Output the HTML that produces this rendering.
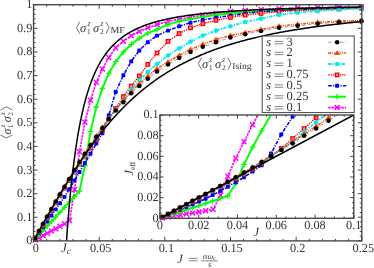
<!DOCTYPE html>
<html><head><meta charset="utf-8"><title>chart</title>
<style>html,body{margin:0;padding:0;background:#fff;}svg{display:block;will-change:transform;transform:translateZ(0);}svg text{text-rendering:geometricPrecision;}</style>
</head><body>
<svg width="374" height="268" viewBox="0 0 374 268">
<rect width="374" height="268" fill="#ffffff"/>
<defs>
<clipPath id="cm"><rect x="33.55" y="4.7" width="328.25" height="236.20000000000002"/></clipPath>
<clipPath id="ci"><rect x="159.95" y="115.0" width="193.85000000000002" height="103.30000000000001"/></clipPath>
</defs>
<g clip-path="url(#cm)">
<polyline points="33.55,240.90 35.20,239.99 39.10,237.83 43.10,235.61 47.20,233.34 51.40,231.02 55.70,228.64 60.00,226.26 64.50,223.77 69.60,220.39 74.60,189.53 79.50,151.70 84.90,122.20 90.50,100.30 96.30,82.30 102.40,68.90 108.80,57.50 115.70,47.70 123.40,41.20 131.20,35.70 139.30,31.40 147.80,27.80 157.00,24.60 168.00,21.40 179.20,19.20 190.50,17.20 202.80,15.10 216.00,13.40 230.40,11.60 245.20,10.40 261.00,9.40 279.00,8.70 297.60,8.10 317.70,7.60 339.00,7.20 361.50,6.90" fill="none" stroke="#ff00ff" stroke-width="1.6" stroke-dasharray="2.4,0.9"/>
</g>
<path d="M32.70,237.49L37.70,242.49M32.70,242.49L37.70,237.49" stroke="#ff00ff" stroke-width="1.45" fill="none"/>
<path d="M36.60,235.33L41.60,240.33M36.60,240.33L41.60,235.33" stroke="#ff00ff" stroke-width="1.45" fill="none"/>
<path d="M40.60,233.11L45.60,238.11M40.60,238.11L45.60,233.11" stroke="#ff00ff" stroke-width="1.45" fill="none"/>
<path d="M44.70,230.84L49.70,235.84M44.70,235.84L49.70,230.84" stroke="#ff00ff" stroke-width="1.45" fill="none"/>
<path d="M48.90,228.52L53.90,233.52M48.90,233.52L53.90,228.52" stroke="#ff00ff" stroke-width="1.45" fill="none"/>
<path d="M53.20,226.14L58.20,231.14M53.20,231.14L58.20,226.14" stroke="#ff00ff" stroke-width="1.45" fill="none"/>
<path d="M57.50,223.76L62.50,228.76M57.50,228.76L62.50,223.76" stroke="#ff00ff" stroke-width="1.45" fill="none"/>
<path d="M62.00,221.27L67.00,226.27M62.00,226.27L67.00,221.27" stroke="#ff00ff" stroke-width="1.45" fill="none"/>
<path d="M67.10,217.89L72.10,222.89M67.10,222.89L72.10,217.89" stroke="#ff00ff" stroke-width="1.45" fill="none"/>
<path d="M72.10,187.03L77.10,192.03M72.10,192.03L77.10,187.03" stroke="#ff00ff" stroke-width="1.45" fill="none"/>
<path d="M77.00,149.20L82.00,154.20M77.00,154.20L82.00,149.20" stroke="#ff00ff" stroke-width="1.45" fill="none"/>
<path d="M82.40,119.70L87.40,124.70M82.40,124.70L87.40,119.70" stroke="#ff00ff" stroke-width="1.45" fill="none"/>
<path d="M88.00,97.80L93.00,102.80M88.00,102.80L93.00,97.80" stroke="#ff00ff" stroke-width="1.45" fill="none"/>
<path d="M93.80,79.80L98.80,84.80M93.80,84.80L98.80,79.80" stroke="#ff00ff" stroke-width="1.45" fill="none"/>
<path d="M99.90,66.40L104.90,71.40M99.90,71.40L104.90,66.40" stroke="#ff00ff" stroke-width="1.45" fill="none"/>
<path d="M106.30,55.00L111.30,60.00M106.30,60.00L111.30,55.00" stroke="#ff00ff" stroke-width="1.45" fill="none"/>
<path d="M113.20,45.20L118.20,50.20M113.20,50.20L118.20,45.20" stroke="#ff00ff" stroke-width="1.45" fill="none"/>
<path d="M120.90,38.70L125.90,43.70M120.90,43.70L125.90,38.70" stroke="#ff00ff" stroke-width="1.45" fill="none"/>
<path d="M128.70,33.20L133.70,38.20M128.70,38.20L133.70,33.20" stroke="#ff00ff" stroke-width="1.45" fill="none"/>
<path d="M136.80,28.90L141.80,33.90M136.80,33.90L141.80,28.90" stroke="#ff00ff" stroke-width="1.45" fill="none"/>
<path d="M145.30,25.30L150.30,30.30M145.30,30.30L150.30,25.30" stroke="#ff00ff" stroke-width="1.45" fill="none"/>
<path d="M154.50,22.10L159.50,27.10M154.50,27.10L159.50,22.10" stroke="#ff00ff" stroke-width="1.45" fill="none"/>
<path d="M165.50,18.90L170.50,23.90M165.50,23.90L170.50,18.90" stroke="#ff00ff" stroke-width="1.45" fill="none"/>
<path d="M176.70,16.70L181.70,21.70M176.70,21.70L181.70,16.70" stroke="#ff00ff" stroke-width="1.45" fill="none"/>
<path d="M188.00,14.70L193.00,19.70M188.00,19.70L193.00,14.70" stroke="#ff00ff" stroke-width="1.45" fill="none"/>
<path d="M200.30,12.60L205.30,17.60M200.30,17.60L205.30,12.60" stroke="#ff00ff" stroke-width="1.45" fill="none"/>
<path d="M213.50,10.90L218.50,15.90M213.50,15.90L218.50,10.90" stroke="#ff00ff" stroke-width="1.45" fill="none"/>
<path d="M227.90,9.10L232.90,14.10M227.90,14.10L232.90,9.10" stroke="#ff00ff" stroke-width="1.45" fill="none"/>
<path d="M242.70,7.90L247.70,12.90M242.70,12.90L247.70,7.90" stroke="#ff00ff" stroke-width="1.45" fill="none"/>
<path d="M258.50,6.90L263.50,11.90M258.50,11.90L263.50,6.90" stroke="#ff00ff" stroke-width="1.45" fill="none"/>
<path d="M276.50,6.20L281.50,11.20M276.50,11.20L281.50,6.20" stroke="#ff00ff" stroke-width="1.45" fill="none"/>
<path d="M295.10,5.60L300.10,10.60M295.10,10.60L300.10,5.60" stroke="#ff00ff" stroke-width="1.45" fill="none"/>
<path d="M315.20,5.10L320.20,10.10M315.20,10.10L320.20,5.10" stroke="#ff00ff" stroke-width="1.45" fill="none"/>
<path d="M336.50,4.70L341.50,9.70M336.50,9.70L341.50,4.70" stroke="#ff00ff" stroke-width="1.45" fill="none"/>
<path d="M359.00,4.40L364.00,9.40M359.00,9.40L364.00,4.40" stroke="#ff00ff" stroke-width="1.45" fill="none"/>
<g clip-path="url(#cm)">
<polyline points="33.55,240.90 35.20,239.11 39.10,234.88 43.10,230.54 47.20,226.09 51.40,221.53 55.70,216.87 60.00,212.20 64.50,207.32 69.20,202.22 74.40,196.58 79.50,191.04 84.90,165.50 90.50,131.60 96.30,107.00 102.40,88.30 108.80,73.40 115.70,61.70 123.40,52.00 131.20,44.30 139.30,38.30 147.80,33.20 157.00,29.40 168.00,24.60 179.20,21.20 190.50,19.10 202.80,16.90 216.00,15.00 230.40,13.50 245.20,12.30 261.00,11.20 279.00,10.30 297.60,9.50 317.70,8.80 339.00,8.20 361.50,7.70" fill="none" stroke="#00ff00" stroke-width="1.9"/>
</g>
<path d="M35.20,236.31V241.91M32.40,239.11H38.00" stroke="#00ff00" stroke-width="1.3" fill="none"/>
<path d="M39.10,232.08V237.68M36.30,234.88H41.90" stroke="#00ff00" stroke-width="1.3" fill="none"/>
<path d="M43.10,227.74V233.34M40.30,230.54H45.90" stroke="#00ff00" stroke-width="1.3" fill="none"/>
<path d="M47.20,223.29V228.89M44.40,226.09H50.00" stroke="#00ff00" stroke-width="1.3" fill="none"/>
<path d="M51.40,218.73V224.33M48.60,221.53H54.20" stroke="#00ff00" stroke-width="1.3" fill="none"/>
<path d="M55.70,214.07V219.67M52.90,216.87H58.50" stroke="#00ff00" stroke-width="1.3" fill="none"/>
<path d="M60.00,209.40V215.00M57.20,212.20H62.80" stroke="#00ff00" stroke-width="1.3" fill="none"/>
<path d="M64.50,204.52V210.12M61.70,207.32H67.30" stroke="#00ff00" stroke-width="1.3" fill="none"/>
<path d="M69.20,199.42V205.02M66.40,202.22H72.00" stroke="#00ff00" stroke-width="1.3" fill="none"/>
<path d="M74.40,193.78V199.38M71.60,196.58H77.20" stroke="#00ff00" stroke-width="1.3" fill="none"/>
<path d="M79.50,188.24V193.84M76.70,191.04H82.30" stroke="#00ff00" stroke-width="1.3" fill="none"/>
<path d="M84.90,162.70V168.30M82.10,165.50H87.70" stroke="#00ff00" stroke-width="1.3" fill="none"/>
<path d="M90.50,128.80V134.40M87.70,131.60H93.30" stroke="#00ff00" stroke-width="1.3" fill="none"/>
<path d="M96.30,104.20V109.80M93.50,107.00H99.10" stroke="#00ff00" stroke-width="1.3" fill="none"/>
<path d="M102.40,85.50V91.10M99.60,88.30H105.20" stroke="#00ff00" stroke-width="1.3" fill="none"/>
<path d="M108.80,70.60V76.20M106.00,73.40H111.60" stroke="#00ff00" stroke-width="1.3" fill="none"/>
<path d="M115.70,58.90V64.50M112.90,61.70H118.50" stroke="#00ff00" stroke-width="1.3" fill="none"/>
<path d="M123.40,49.20V54.80M120.60,52.00H126.20" stroke="#00ff00" stroke-width="1.3" fill="none"/>
<path d="M131.20,41.50V47.10M128.40,44.30H134.00" stroke="#00ff00" stroke-width="1.3" fill="none"/>
<path d="M139.30,35.50V41.10M136.50,38.30H142.10" stroke="#00ff00" stroke-width="1.3" fill="none"/>
<path d="M147.80,30.40V36.00M145.00,33.20H150.60" stroke="#00ff00" stroke-width="1.3" fill="none"/>
<path d="M157.00,26.60V32.20M154.20,29.40H159.80" stroke="#00ff00" stroke-width="1.3" fill="none"/>
<path d="M168.00,21.80V27.40M165.20,24.60H170.80" stroke="#00ff00" stroke-width="1.3" fill="none"/>
<path d="M179.20,18.40V24.00M176.40,21.20H182.00" stroke="#00ff00" stroke-width="1.3" fill="none"/>
<path d="M190.50,16.30V21.90M187.70,19.10H193.30" stroke="#00ff00" stroke-width="1.3" fill="none"/>
<path d="M202.80,14.10V19.70M200.00,16.90H205.60" stroke="#00ff00" stroke-width="1.3" fill="none"/>
<path d="M216.00,12.20V17.80M213.20,15.00H218.80" stroke="#00ff00" stroke-width="1.3" fill="none"/>
<path d="M230.40,10.70V16.30M227.60,13.50H233.20" stroke="#00ff00" stroke-width="1.3" fill="none"/>
<path d="M245.20,9.50V15.10M242.40,12.30H248.00" stroke="#00ff00" stroke-width="1.3" fill="none"/>
<path d="M261.00,8.40V14.00M258.20,11.20H263.80" stroke="#00ff00" stroke-width="1.3" fill="none"/>
<path d="M279.00,7.50V13.10M276.20,10.30H281.80" stroke="#00ff00" stroke-width="1.3" fill="none"/>
<path d="M297.60,6.70V12.30M294.80,9.50H300.40" stroke="#00ff00" stroke-width="1.3" fill="none"/>
<path d="M317.70,6.00V11.60M314.90,8.80H320.50" stroke="#00ff00" stroke-width="1.3" fill="none"/>
<path d="M339.00,5.40V11.00M336.20,8.20H341.80" stroke="#00ff00" stroke-width="1.3" fill="none"/>
<path d="M361.50,4.90V10.50M358.70,7.70H364.30" stroke="#00ff00" stroke-width="1.3" fill="none"/>
<g clip-path="url(#cm)">
<polyline points="33.55,240.90 35.20,238.55 39.10,233.01 43.10,227.32 47.20,221.49 51.40,215.52 55.70,209.41 60.00,203.29 64.50,196.90 69.20,189.21 74.40,180.52 79.50,172.00 84.90,163.05 90.50,153.76 96.30,143.46 102.40,133.24 108.80,115.40 115.70,92.04 123.40,75.25 131.20,61.40 139.30,50.50 147.80,42.19 157.00,35.65 168.00,30.60 179.20,26.30 190.50,22.72 202.80,19.89 216.00,17.70 230.40,15.73 245.20,13.40 261.00,11.67 279.00,10.50 297.60,9.60 317.70,8.80 339.00,8.10 361.50,7.60" fill="none" stroke="#0000ff" stroke-width="1.6" stroke-dasharray="3.6,1.3,1.2,1.3"/>
</g>
<rect x="33.25" y="236.60" width="3.90" height="3.90" rx="0.7" fill="#0000ff"/>
<rect x="37.15" y="231.06" width="3.90" height="3.90" rx="0.7" fill="#0000ff"/>
<rect x="41.15" y="225.37" width="3.90" height="3.90" rx="0.7" fill="#0000ff"/>
<rect x="45.25" y="219.54" width="3.90" height="3.90" rx="0.7" fill="#0000ff"/>
<rect x="49.45" y="213.57" width="3.90" height="3.90" rx="0.7" fill="#0000ff"/>
<rect x="53.75" y="207.46" width="3.90" height="3.90" rx="0.7" fill="#0000ff"/>
<rect x="58.05" y="201.34" width="3.90" height="3.90" rx="0.7" fill="#0000ff"/>
<rect x="62.55" y="194.95" width="3.90" height="3.90" rx="0.7" fill="#0000ff"/>
<rect x="67.25" y="187.26" width="3.90" height="3.90" rx="0.7" fill="#0000ff"/>
<rect x="72.45" y="178.57" width="3.90" height="3.90" rx="0.7" fill="#0000ff"/>
<rect x="77.55" y="170.05" width="3.90" height="3.90" rx="0.7" fill="#0000ff"/>
<rect x="82.95" y="161.10" width="3.90" height="3.90" rx="0.7" fill="#0000ff"/>
<rect x="88.55" y="151.81" width="3.90" height="3.90" rx="0.7" fill="#0000ff"/>
<rect x="94.35" y="141.51" width="3.90" height="3.90" rx="0.7" fill="#0000ff"/>
<rect x="100.45" y="131.29" width="3.90" height="3.90" rx="0.7" fill="#0000ff"/>
<rect x="106.85" y="113.45" width="3.90" height="3.90" rx="0.7" fill="#0000ff"/>
<rect x="113.75" y="90.09" width="3.90" height="3.90" rx="0.7" fill="#0000ff"/>
<rect x="121.45" y="73.30" width="3.90" height="3.90" rx="0.7" fill="#0000ff"/>
<rect x="129.25" y="59.45" width="3.90" height="3.90" rx="0.7" fill="#0000ff"/>
<rect x="137.35" y="48.55" width="3.90" height="3.90" rx="0.7" fill="#0000ff"/>
<rect x="145.85" y="40.24" width="3.90" height="3.90" rx="0.7" fill="#0000ff"/>
<rect x="155.05" y="33.70" width="3.90" height="3.90" rx="0.7" fill="#0000ff"/>
<rect x="166.05" y="28.65" width="3.90" height="3.90" rx="0.7" fill="#0000ff"/>
<rect x="177.25" y="24.35" width="3.90" height="3.90" rx="0.7" fill="#0000ff"/>
<rect x="188.55" y="20.77" width="3.90" height="3.90" rx="0.7" fill="#0000ff"/>
<rect x="200.85" y="17.94" width="3.90" height="3.90" rx="0.7" fill="#0000ff"/>
<rect x="214.05" y="15.75" width="3.90" height="3.90" rx="0.7" fill="#0000ff"/>
<rect x="228.45" y="13.78" width="3.90" height="3.90" rx="0.7" fill="#0000ff"/>
<rect x="243.25" y="11.45" width="3.90" height="3.90" rx="0.7" fill="#0000ff"/>
<rect x="259.05" y="9.72" width="3.90" height="3.90" rx="0.7" fill="#0000ff"/>
<rect x="277.05" y="8.55" width="3.90" height="3.90" rx="0.7" fill="#0000ff"/>
<rect x="295.65" y="7.65" width="3.90" height="3.90" rx="0.7" fill="#0000ff"/>
<rect x="315.75" y="6.85" width="3.90" height="3.90" rx="0.7" fill="#0000ff"/>
<rect x="337.05" y="6.15" width="3.90" height="3.90" rx="0.7" fill="#0000ff"/>
<rect x="359.55" y="5.65" width="3.90" height="3.90" rx="0.7" fill="#0000ff"/>
<g clip-path="url(#cm)">
<polyline points="33.55,240.90 35.20,238.15 39.10,231.66 43.10,225.02 47.20,217.98 51.40,210.58 55.70,203.11 60.00,195.76 64.50,188.21 69.20,180.51 74.40,172.23 79.50,164.38 84.90,156.37 90.50,148.31 96.30,139.28 102.40,130.21 108.80,119.45 115.70,108.50 123.40,96.63 131.20,86.00 139.30,76.00 147.80,64.40 157.00,52.98 168.00,41.40 179.20,33.50 190.50,27.80 202.80,23.70 216.00,20.30 230.40,17.37 245.20,15.10 261.00,13.41 279.00,11.68 297.60,10.58 317.70,9.88 339.00,9.00 361.50,8.30" fill="none" stroke="#ff0000" stroke-width="1.3" stroke-dasharray="1.4,0.9"/>
</g>
<rect x="33.45" y="236.40" width="3.50" height="3.50" fill="#ff8a8a" stroke="#ff0000" stroke-width="1.3"/>
<rect x="37.35" y="229.91" width="3.50" height="3.50" fill="#ff8a8a" stroke="#ff0000" stroke-width="1.3"/>
<rect x="41.35" y="223.27" width="3.50" height="3.50" fill="#ff8a8a" stroke="#ff0000" stroke-width="1.3"/>
<rect x="45.45" y="216.23" width="3.50" height="3.50" fill="#ff8a8a" stroke="#ff0000" stroke-width="1.3"/>
<rect x="49.65" y="208.83" width="3.50" height="3.50" fill="#ff8a8a" stroke="#ff0000" stroke-width="1.3"/>
<rect x="53.95" y="201.36" width="3.50" height="3.50" fill="#ff8a8a" stroke="#ff0000" stroke-width="1.3"/>
<rect x="58.25" y="194.01" width="3.50" height="3.50" fill="#ff8a8a" stroke="#ff0000" stroke-width="1.3"/>
<rect x="62.75" y="186.46" width="3.50" height="3.50" fill="#ff8a8a" stroke="#ff0000" stroke-width="1.3"/>
<rect x="67.45" y="178.76" width="3.50" height="3.50" fill="#ff8a8a" stroke="#ff0000" stroke-width="1.3"/>
<rect x="72.65" y="170.48" width="3.50" height="3.50" fill="#ff8a8a" stroke="#ff0000" stroke-width="1.3"/>
<rect x="77.75" y="162.63" width="3.50" height="3.50" fill="#ff8a8a" stroke="#ff0000" stroke-width="1.3"/>
<rect x="83.15" y="154.62" width="3.50" height="3.50" fill="#ff8a8a" stroke="#ff0000" stroke-width="1.3"/>
<rect x="88.75" y="146.56" width="3.50" height="3.50" fill="#ff8a8a" stroke="#ff0000" stroke-width="1.3"/>
<rect x="94.55" y="137.53" width="3.50" height="3.50" fill="#ff8a8a" stroke="#ff0000" stroke-width="1.3"/>
<rect x="100.65" y="128.46" width="3.50" height="3.50" fill="#ff8a8a" stroke="#ff0000" stroke-width="1.3"/>
<rect x="107.05" y="117.70" width="3.50" height="3.50" fill="#ff8a8a" stroke="#ff0000" stroke-width="1.3"/>
<rect x="113.95" y="106.75" width="3.50" height="3.50" fill="#ff8a8a" stroke="#ff0000" stroke-width="1.3"/>
<rect x="121.65" y="94.88" width="3.50" height="3.50" fill="#ff8a8a" stroke="#ff0000" stroke-width="1.3"/>
<rect x="129.45" y="84.25" width="3.50" height="3.50" fill="#ff8a8a" stroke="#ff0000" stroke-width="1.3"/>
<rect x="137.55" y="74.25" width="3.50" height="3.50" fill="#ff8a8a" stroke="#ff0000" stroke-width="1.3"/>
<rect x="146.05" y="62.65" width="3.50" height="3.50" fill="#ff8a8a" stroke="#ff0000" stroke-width="1.3"/>
<rect x="155.25" y="51.23" width="3.50" height="3.50" fill="#ff8a8a" stroke="#ff0000" stroke-width="1.3"/>
<rect x="166.25" y="39.65" width="3.50" height="3.50" fill="#ff8a8a" stroke="#ff0000" stroke-width="1.3"/>
<rect x="177.45" y="31.75" width="3.50" height="3.50" fill="#ff8a8a" stroke="#ff0000" stroke-width="1.3"/>
<rect x="188.75" y="26.05" width="3.50" height="3.50" fill="#ff8a8a" stroke="#ff0000" stroke-width="1.3"/>
<rect x="201.05" y="21.95" width="3.50" height="3.50" fill="#ff8a8a" stroke="#ff0000" stroke-width="1.3"/>
<rect x="214.25" y="18.55" width="3.50" height="3.50" fill="#ff8a8a" stroke="#ff0000" stroke-width="1.3"/>
<rect x="228.65" y="15.62" width="3.50" height="3.50" fill="#ff8a8a" stroke="#ff0000" stroke-width="1.3"/>
<rect x="243.45" y="13.35" width="3.50" height="3.50" fill="#ff8a8a" stroke="#ff0000" stroke-width="1.3"/>
<rect x="259.25" y="11.66" width="3.50" height="3.50" fill="#ff8a8a" stroke="#ff0000" stroke-width="1.3"/>
<rect x="277.25" y="9.93" width="3.50" height="3.50" fill="#ff8a8a" stroke="#ff0000" stroke-width="1.3"/>
<rect x="295.85" y="8.83" width="3.50" height="3.50" fill="#ff8a8a" stroke="#ff0000" stroke-width="1.3"/>
<rect x="315.95" y="8.13" width="3.50" height="3.50" fill="#ff8a8a" stroke="#ff0000" stroke-width="1.3"/>
<rect x="337.25" y="7.25" width="3.50" height="3.50" fill="#ff8a8a" stroke="#ff0000" stroke-width="1.3"/>
<rect x="359.75" y="6.55" width="3.50" height="3.50" fill="#ff8a8a" stroke="#ff0000" stroke-width="1.3"/>
<g clip-path="url(#cm)">
<polyline points="33.55,240.90 35.20,238.05 39.10,231.31 43.10,224.43 47.20,217.28 51.40,209.88 55.70,202.41 60.00,195.06 64.50,187.51 69.20,179.81 74.40,171.53 79.50,163.68 84.90,154.97 90.50,146.20 96.30,137.50 102.40,128.71 108.80,119.45 115.70,109.82 123.40,100.02 131.20,89.30 139.30,80.00 147.80,71.90 157.00,64.00 168.00,55.50 179.20,48.42 190.50,41.60 202.80,35.51 216.00,30.60 230.40,26.24 245.20,22.00 261.00,18.62 279.00,14.85 297.60,12.56 317.70,11.07 339.00,9.59 361.50,8.61" fill="none" stroke="#00eaf2" stroke-width="1.8" stroke-dasharray="3.2,1.2,1.2,1.2"/>
</g>
<polygon points="35.20,235.45 37.67,237.25 36.73,240.15 33.67,240.15 32.73,237.25" fill="#00eaf2"/>
<polygon points="39.10,228.71 41.57,230.51 40.63,233.42 37.57,233.42 36.63,230.51" fill="#00eaf2"/>
<polygon points="43.10,221.83 45.57,223.63 44.63,226.54 41.57,226.54 40.63,223.63" fill="#00eaf2"/>
<polygon points="47.20,214.68 49.67,216.47 48.73,219.38 45.67,219.38 44.73,216.47" fill="#00eaf2"/>
<polygon points="51.40,207.28 53.87,209.08 52.93,211.99 49.87,211.99 48.93,209.08" fill="#00eaf2"/>
<polygon points="55.70,199.81 58.17,201.61 57.23,204.51 54.17,204.51 53.23,201.61" fill="#00eaf2"/>
<polygon points="60.00,192.46 62.47,194.25 61.53,197.16 58.47,197.16 57.53,194.25" fill="#00eaf2"/>
<polygon points="64.50,184.91 66.97,186.70 66.03,189.61 62.97,189.61 62.03,186.70" fill="#00eaf2"/>
<polygon points="69.20,177.21 71.67,179.01 70.73,181.91 67.67,181.91 66.73,179.01" fill="#00eaf2"/>
<polygon points="74.40,168.93 76.87,170.73 75.93,173.63 72.87,173.63 71.93,170.73" fill="#00eaf2"/>
<polygon points="79.50,161.08 81.97,162.88 81.03,165.78 77.97,165.78 77.03,162.88" fill="#00eaf2"/>
<polygon points="84.90,152.37 87.37,154.16 86.43,157.07 83.37,157.07 82.43,154.16" fill="#00eaf2"/>
<polygon points="90.50,143.60 92.97,145.40 92.03,148.31 88.97,148.31 88.03,145.40" fill="#00eaf2"/>
<polygon points="96.30,134.90 98.77,136.70 97.83,139.61 94.77,139.61 93.83,136.70" fill="#00eaf2"/>
<polygon points="102.40,126.11 104.87,127.91 103.93,130.81 100.87,130.81 99.93,127.91" fill="#00eaf2"/>
<polygon points="108.80,116.85 111.27,118.65 110.33,121.55 107.27,121.55 106.33,118.65" fill="#00eaf2"/>
<polygon points="115.70,107.22 118.17,109.01 117.23,111.92 114.17,111.92 113.23,109.01" fill="#00eaf2"/>
<polygon points="123.40,97.42 125.87,99.22 124.93,102.13 121.87,102.13 120.93,99.22" fill="#00eaf2"/>
<polygon points="131.20,86.70 133.67,88.50 132.73,91.40 129.67,91.40 128.73,88.50" fill="#00eaf2"/>
<polygon points="139.30,77.40 141.77,79.20 140.83,82.10 137.77,82.10 136.83,79.20" fill="#00eaf2"/>
<polygon points="147.80,69.30 150.27,71.10 149.33,74.00 146.27,74.00 145.33,71.10" fill="#00eaf2"/>
<polygon points="157.00,61.40 159.47,63.20 158.53,66.10 155.47,66.10 154.53,63.20" fill="#00eaf2"/>
<polygon points="168.00,52.90 170.47,54.70 169.53,57.60 166.47,57.60 165.53,54.70" fill="#00eaf2"/>
<polygon points="179.20,45.82 181.67,47.62 180.73,50.53 177.67,50.53 176.73,47.62" fill="#00eaf2"/>
<polygon points="190.50,39.00 192.97,40.80 192.03,43.70 188.97,43.70 188.03,40.80" fill="#00eaf2"/>
<polygon points="202.80,32.91 205.27,34.71 204.33,37.62 201.27,37.62 200.33,34.71" fill="#00eaf2"/>
<polygon points="216.00,28.00 218.47,29.80 217.53,32.70 214.47,32.70 213.53,29.80" fill="#00eaf2"/>
<polygon points="230.40,23.64 232.87,25.44 231.93,28.35 228.87,28.35 227.93,25.44" fill="#00eaf2"/>
<polygon points="245.20,19.40 247.67,21.20 246.73,24.10 243.67,24.10 242.73,21.20" fill="#00eaf2"/>
<polygon points="261.00,16.02 263.47,17.82 262.53,20.72 259.47,20.72 258.53,17.82" fill="#00eaf2"/>
<polygon points="279.00,12.25 281.47,14.05 280.53,16.95 277.47,16.95 276.53,14.05" fill="#00eaf2"/>
<polygon points="297.60,9.96 300.07,11.76 299.13,14.67 296.07,14.67 295.13,11.76" fill="#00eaf2"/>
<polygon points="317.70,8.47 320.17,10.26 319.23,13.17 316.17,13.17 315.23,10.26" fill="#00eaf2"/>
<polygon points="339.00,6.99 341.47,8.79 340.53,11.69 337.47,11.69 336.53,8.79" fill="#00eaf2"/>
<polygon points="361.50,6.01 363.97,7.81 363.03,10.72 359.97,10.72 359.03,7.81" fill="#00eaf2"/>
<g clip-path="url(#cm)">
<polyline points="33.55,240.90 35.20,237.93 39.10,230.92 43.10,223.77 47.20,216.48 51.40,209.08 55.70,201.61 60.00,194.26 64.50,186.71 69.20,179.01 74.40,170.30 79.50,161.95 84.90,153.42 90.50,144.91 96.30,136.08 102.40,127.23 108.80,118.40 115.70,109.42 123.40,100.31 131.20,91.74 139.30,83.76 147.80,76.16 157.00,68.65 168.00,61.83 179.20,55.37 190.50,49.54 202.80,44.27 216.00,39.48 230.40,35.52 245.20,32.59 261.00,29.53 279.00,26.16 297.60,24.23 317.70,22.32 339.00,21.21 361.50,20.40" fill="none" stroke="#ff4500" stroke-width="1.5" stroke-dasharray="3,1,1,1,1,1"/>
</g>
<polygon points="35.20,234.99 32.10,239.73 38.30,239.73" fill="#ff4500"/>
<polygon points="39.10,227.98 36.00,232.72 42.20,232.72" fill="#ff4500"/>
<polygon points="43.10,220.82 40.00,225.56 46.20,225.56" fill="#ff4500"/>
<polygon points="47.20,213.53 44.10,218.27 50.30,218.27" fill="#ff4500"/>
<polygon points="51.40,206.14 48.30,210.88 54.50,210.88" fill="#ff4500"/>
<polygon points="55.70,198.66 52.60,203.41 58.80,203.41" fill="#ff4500"/>
<polygon points="60.00,191.31 56.90,196.05 63.10,196.05" fill="#ff4500"/>
<polygon points="64.50,183.76 61.40,188.51 67.60,188.51" fill="#ff4500"/>
<polygon points="69.20,176.06 66.10,180.81 72.30,180.81" fill="#ff4500"/>
<polygon points="74.40,167.36 71.30,172.10 77.50,172.10" fill="#ff4500"/>
<polygon points="79.50,159.01 76.40,163.75 82.60,163.75" fill="#ff4500"/>
<polygon points="84.90,150.47 81.80,155.21 88.00,155.21" fill="#ff4500"/>
<polygon points="90.50,141.97 87.40,146.71 93.60,146.71" fill="#ff4500"/>
<polygon points="96.30,133.14 93.20,137.88 99.40,137.88" fill="#ff4500"/>
<polygon points="102.40,124.28 99.30,129.02 105.50,129.02" fill="#ff4500"/>
<polygon points="108.80,115.46 105.70,120.20 111.90,120.20" fill="#ff4500"/>
<polygon points="115.70,106.47 112.60,111.22 118.80,111.22" fill="#ff4500"/>
<polygon points="123.40,97.37 120.30,102.11 126.50,102.11" fill="#ff4500"/>
<polygon points="131.20,88.80 128.10,93.54 134.30,93.54" fill="#ff4500"/>
<polygon points="139.30,80.82 136.20,85.56 142.40,85.56" fill="#ff4500"/>
<polygon points="147.80,73.22 144.70,77.96 150.90,77.96" fill="#ff4500"/>
<polygon points="157.00,65.70 153.90,70.44 160.10,70.44" fill="#ff4500"/>
<polygon points="168.00,58.89 164.90,63.63 171.10,63.63" fill="#ff4500"/>
<polygon points="179.20,52.43 176.10,57.17 182.30,57.17" fill="#ff4500"/>
<polygon points="190.50,46.60 187.40,51.34 193.60,51.34" fill="#ff4500"/>
<polygon points="202.80,41.33 199.70,46.07 205.90,46.07" fill="#ff4500"/>
<polygon points="216.00,36.54 212.90,41.28 219.10,41.28" fill="#ff4500"/>
<polygon points="230.40,32.57 227.30,37.32 233.50,37.32" fill="#ff4500"/>
<polygon points="245.20,29.64 242.10,34.38 248.30,34.38" fill="#ff4500"/>
<polygon points="261.00,26.59 257.90,31.33 264.10,31.33" fill="#ff4500"/>
<polygon points="279.00,23.21 275.90,27.95 282.10,27.95" fill="#ff4500"/>
<polygon points="297.60,21.28 294.50,26.03 300.70,26.03" fill="#ff4500"/>
<polygon points="317.70,19.37 314.60,24.12 320.80,24.12" fill="#ff4500"/>
<polygon points="339.00,18.27 335.90,23.01 342.10,23.01" fill="#ff4500"/>
<polygon points="361.50,17.46 358.40,22.20 364.60,22.20" fill="#ff4500"/>
<g clip-path="url(#cm)">
<polyline points="33.55,240.90 35.20,237.93 39.10,230.92 43.10,223.77 47.20,216.48 51.40,209.08 55.70,201.61 60.00,194.26 64.50,186.71 69.20,179.01 74.40,170.37 79.50,162.09 84.90,153.63 90.50,145.21 96.30,136.76 102.40,127.93 108.80,118.97 115.70,110.52 123.40,102.31 131.20,93.34 139.30,85.95 147.80,78.68 157.00,71.53 168.00,64.48 179.20,57.88 190.50,51.95 202.80,46.87 216.00,42.18 230.40,37.61 245.20,34.29 261.00,30.93 279.00,27.66 297.60,25.82 317.70,23.71 339.00,22.21 361.50,21.11" fill="none" stroke="#555" stroke-width="0.6" stroke-dasharray="3.4,2.4"/>
</g>
<circle cx="35.20" cy="237.93" r="2.25" fill="#000000"/>
<circle cx="39.10" cy="230.92" r="2.25" fill="#000000"/>
<circle cx="43.10" cy="223.77" r="2.25" fill="#000000"/>
<circle cx="47.20" cy="216.48" r="2.25" fill="#000000"/>
<circle cx="51.40" cy="209.08" r="2.25" fill="#000000"/>
<circle cx="55.70" cy="201.61" r="2.25" fill="#000000"/>
<circle cx="60.00" cy="194.26" r="2.25" fill="#000000"/>
<circle cx="64.50" cy="186.71" r="2.25" fill="#000000"/>
<circle cx="69.20" cy="179.01" r="2.25" fill="#000000"/>
<circle cx="74.40" cy="170.37" r="2.25" fill="#000000"/>
<circle cx="79.50" cy="162.09" r="2.25" fill="#000000"/>
<circle cx="84.90" cy="153.63" r="2.25" fill="#000000"/>
<circle cx="90.50" cy="145.21" r="2.25" fill="#000000"/>
<circle cx="96.30" cy="136.76" r="2.25" fill="#000000"/>
<circle cx="102.40" cy="127.93" r="2.25" fill="#000000"/>
<circle cx="108.80" cy="118.97" r="2.25" fill="#000000"/>
<circle cx="115.70" cy="110.52" r="2.25" fill="#000000"/>
<circle cx="123.40" cy="102.31" r="2.25" fill="#000000"/>
<circle cx="131.20" cy="93.34" r="2.25" fill="#000000"/>
<circle cx="139.30" cy="85.95" r="2.25" fill="#000000"/>
<circle cx="147.80" cy="78.68" r="2.25" fill="#000000"/>
<circle cx="157.00" cy="71.53" r="2.25" fill="#000000"/>
<circle cx="168.00" cy="64.48" r="2.25" fill="#000000"/>
<circle cx="179.20" cy="57.88" r="2.25" fill="#000000"/>
<circle cx="190.50" cy="51.95" r="2.25" fill="#000000"/>
<circle cx="202.80" cy="46.87" r="2.25" fill="#000000"/>
<circle cx="216.00" cy="42.18" r="2.25" fill="#000000"/>
<circle cx="230.40" cy="37.61" r="2.25" fill="#000000"/>
<circle cx="245.20" cy="34.29" r="2.25" fill="#000000"/>
<circle cx="261.00" cy="30.93" r="2.25" fill="#000000"/>
<circle cx="279.00" cy="27.66" r="2.25" fill="#000000"/>
<circle cx="297.60" cy="25.82" r="2.25" fill="#000000"/>
<circle cx="317.70" cy="23.71" r="2.25" fill="#000000"/>
<circle cx="339.00" cy="22.21" r="2.25" fill="#000000"/>
<circle cx="361.50" cy="21.11" r="2.25" fill="#000000"/>
<g clip-path="url(#cm)">
<polyline points="66.51,240.90 66.76,237.33 67.01,233.84 67.26,230.42 67.51,227.08 67.77,223.82 68.02,220.62 68.27,217.50 68.52,214.44 68.78,211.45 69.03,208.52 69.28,205.66 69.53,202.85 69.78,200.10 70.04,197.41 70.29,194.78 70.54,192.20 70.79,189.67 71.04,187.19 71.30,184.76 71.55,182.38 71.80,180.04 72.05,177.75 72.30,175.51 72.56,173.31 72.81,171.15 73.06,169.03 73.31,166.95 73.57,164.92 73.82,162.92 74.07,160.95 74.32,159.03 74.57,157.14 74.83,155.28 75.08,153.46 75.33,151.67 75.58,149.91 75.83,148.18 76.09,146.49 76.34,144.82 76.59,143.19 76.84,141.58 77.09,140.00 77.35,138.44 77.60,136.92 77.85,135.42 78.10,133.94 78.36,132.49 78.61,131.07 78.86,129.66 79.11,128.28 79.36,126.93 79.62,125.59 79.87,124.28 80.12,122.99 80.37,121.72 80.62,120.47 80.88,119.24 81.13,118.03 81.38,116.84 81.63,115.66 81.88,114.51 82.14,113.37 82.39,112.25 82.64,111.15 82.89,110.07 83.14,109.00 83.40,107.95 83.65,106.91 83.90,105.89 84.15,104.88 84.41,103.89 84.66,102.92 84.91,101.96 85.16,101.01 85.41,100.07 85.67,99.15 85.92,98.25 86.17,97.35 86.42,96.47 86.67,95.60 86.93,94.74 87.18,93.90 87.43,93.07 87.68,92.25 87.93,91.44 88.19,90.64 88.44,89.85 88.69,89.07 88.94,88.31 89.20,87.55 89.45,86.81 89.70,86.07 89.95,85.34 90.20,84.63 90.46,83.92 90.71,83.22 90.96,82.54 91.21,81.86 91.46,81.19 91.72,80.53 91.97,79.87 92.22,79.23 92.47,78.59 92.72,77.96 92.98,77.34 93.23,76.73 93.48,76.13 93.73,75.53 93.99,74.94 94.24,74.36 94.49,73.78 94.74,73.21 94.99,72.65 95.25,72.10 95.50,71.55 95.75,71.01 96.00,70.48 96.25,69.95 96.51,69.43 96.51,69.43 97.84,66.77 99.17,64.27 100.51,61.92 101.84,59.71 103.17,57.63 104.51,55.66 105.84,53.79 107.17,52.03 108.50,50.36 109.84,48.78 111.17,47.28 112.50,45.85 113.84,44.50 115.17,43.21 116.50,41.98 117.84,40.81 119.17,39.70 120.50,38.63 121.84,37.61 123.17,36.64 124.50,35.71 125.84,34.82 127.17,33.97 128.50,33.15 129.83,32.37 131.17,31.62 132.50,30.90 133.83,30.21 135.17,29.54 136.50,28.90 137.83,28.29 139.17,27.70 140.50,27.13 141.83,26.58 143.17,26.05 144.50,25.54 145.83,25.05 147.17,24.57 148.50,24.12 149.83,23.67 151.16,23.25 152.50,22.83 153.83,22.43 155.16,22.05 156.50,21.67 157.83,21.31 159.16,20.96 160.50,20.62 161.83,20.29 163.16,19.97 164.50,19.66 165.83,19.36 167.16,19.07 168.50,18.79 169.83,18.51 171.16,18.25 172.49,17.99 173.83,17.74 175.16,17.49 176.49,17.26 177.83,17.02 179.16,16.80 180.49,16.58 181.83,16.37 183.16,16.16 184.49,15.96 185.83,15.76 187.16,15.57 188.49,15.39 189.83,15.20 191.16,15.03 192.49,14.85 193.83,14.69 195.16,14.52 196.49,14.36 197.82,14.21 199.16,14.05 200.49,13.91 201.82,13.76 203.16,13.62 204.49,13.48 205.82,13.34 207.16,13.21 208.49,13.08 209.82,12.96 211.16,12.83 212.49,12.71 213.82,12.59 215.16,12.48 216.49,12.37 217.82,12.26 219.15,12.15 220.49,12.04 221.82,11.94 223.15,11.84 224.49,11.74 225.82,11.64 227.15,11.54 228.49,11.45 229.82,11.36 231.15,11.27 232.49,11.18 233.82,11.10 235.15,11.01 236.49,10.93 237.82,10.85 239.15,10.77 240.48,10.69 241.82,10.61 243.15,10.54 244.48,10.47 245.82,10.39 247.15,10.32 248.48,10.25 249.82,10.19 251.15,10.12 252.48,10.05 253.82,9.99 255.15,9.92 256.48,9.86 257.82,9.80 259.15,9.74 260.48,9.68 261.81,9.62 263.15,9.57 264.48,9.51 265.81,9.46 267.15,9.40 268.48,9.35 269.81,9.30 271.15,9.24 272.48,9.19 273.81,9.14 275.15,9.10 276.48,9.05 277.81,9.00 279.15,8.95 280.48,8.91 281.81,8.86 283.15,8.82 284.48,8.77 285.81,8.73 287.14,8.69 288.48,8.65 289.81,8.61 291.14,8.57 292.48,8.53 293.81,8.49 295.14,8.45 296.48,8.41 297.81,8.37 299.14,8.34 300.48,8.30 301.81,8.26 303.14,8.23 304.48,8.20 305.81,8.16 307.14,8.13 308.47,8.09 309.81,8.06 311.14,8.03 312.47,8.00 313.81,7.97 315.14,7.94 316.47,7.90 317.81,7.87 319.14,7.85 320.47,7.82 321.81,7.79 323.14,7.76 324.47,7.73 325.81,7.70 327.14,7.68 328.47,7.65 329.80,7.62 331.14,7.60 332.47,7.57 333.80,7.55 335.14,7.52 336.47,7.50 337.80,7.47 339.14,7.45 340.47,7.42 341.80,7.40 343.14,7.38 344.47,7.35 345.80,7.33 347.14,7.31 348.47,7.29 349.80,7.27 351.13,7.24 352.47,7.22 353.80,7.20 355.13,7.18 356.47,7.16 357.80,7.14 359.13,7.12 360.47,7.10 361.80,7.08" fill="none" stroke="#000" stroke-width="1.5"/>
<polyline points="33.55,240.90 34.65,238.93 35.75,236.95 36.84,234.98 37.94,233.00 39.04,231.03 40.14,229.07 41.23,227.10 42.33,225.14 43.43,223.18 44.53,221.22 45.63,219.27 46.72,217.32 47.82,215.38 48.92,213.44 50.02,211.51 51.12,209.58 52.21,207.66 53.31,205.75 54.41,203.84 55.51,201.94 56.60,200.05 57.70,198.17 58.80,196.29 59.90,194.43 61.00,192.57 62.09,190.72 63.19,188.89 64.29,187.06 65.39,185.24 66.48,183.43 67.58,181.64 68.68,179.85 69.78,178.08 70.88,176.31 71.97,174.56 73.07,172.82 74.17,171.09 75.27,169.38 76.37,167.67 77.46,165.98 78.56,164.30 79.66,162.64 80.76,160.99 81.85,159.35 82.95,157.72 84.05,156.11 85.15,154.51 86.25,152.92 87.34,151.35 88.44,149.80 89.54,148.25 90.64,146.72 91.73,145.20 92.83,143.70 93.93,142.21 95.03,140.74 96.13,139.28 97.22,137.83 98.32,136.40 99.42,134.99 100.52,133.58 101.62,132.19 102.71,130.82 103.81,129.46 104.91,128.11 106.01,126.78 107.10,125.46 108.20,124.16 109.30,122.87 110.40,121.59 111.50,120.33 112.59,119.08 113.69,117.84 114.79,116.62 115.89,115.41 116.98,114.22 118.08,113.04 119.18,111.87 120.28,110.72 121.38,109.58 122.47,108.45 123.57,107.33 124.67,106.23 125.77,105.14 126.87,104.07 127.96,103.01 129.06,101.95 130.16,100.92 131.26,99.89 132.35,98.88 133.45,97.88 134.55,96.89 135.65,95.91 136.75,94.94 137.84,93.99 138.94,93.05 140.04,92.12 141.14,91.20 142.23,90.29 143.33,89.39 144.43,88.50 145.53,87.63 146.63,86.76 147.72,85.91 148.82,85.07 149.92,84.23 151.02,83.41 152.12,82.60 153.21,81.80 154.31,81.00 155.41,80.22 156.51,79.45 157.60,78.69 158.70,77.93 159.80,77.19 160.90,76.45 162.00,75.73 163.09,75.01 164.19,74.30 165.29,73.60 166.39,72.91 167.48,72.23 168.58,71.56 169.68,70.89 170.78,70.24 171.88,69.59 172.97,68.95 174.07,68.31 175.17,67.69 176.27,67.07 177.37,66.46 178.46,65.86 179.56,65.27 180.66,64.68 181.76,64.10 182.85,63.53 183.95,62.96 185.05,62.41 186.15,61.85 187.25,61.31 188.34,60.77 189.44,60.24 190.54,59.72 191.64,59.20 192.73,58.69 193.83,58.18 194.93,57.68 196.03,57.19 197.13,56.70 198.22,56.22 199.32,55.74 200.42,55.27 201.52,54.81 202.62,54.35 203.71,53.90 204.81,53.45 205.91,53.01 207.01,52.57 208.10,52.14 209.20,51.71 210.30,51.29 211.40,50.88 212.50,50.46 213.59,50.06 214.69,49.66 215.79,49.26 216.89,48.87 217.98,48.48 219.08,48.10 220.18,47.72 221.28,47.34 222.38,46.97 223.47,46.61 224.57,46.25 225.67,45.89 226.77,45.54 227.87,45.19 228.96,44.85 230.06,44.50 231.16,44.17 232.26,43.84 233.35,43.51 234.45,43.18 235.55,42.86 236.65,42.54 237.75,42.23 238.84,41.92 239.94,41.61 241.04,41.31 242.14,41.01 243.23,40.71 244.33,40.42 245.43,40.13 246.53,39.84 247.63,39.55 248.72,39.27 249.82,39.00 250.92,38.72 252.02,38.45 253.12,38.18 254.21,37.92 255.31,37.65 256.41,37.39 257.51,37.14 258.60,36.88 259.70,36.63 260.80,36.38 261.90,36.14 263.00,35.89 264.09,35.65 265.19,35.41 266.29,35.18 267.39,34.95 268.48,34.72 269.58,34.49 270.68,34.26 271.78,34.04 272.88,33.82 273.97,33.60 275.07,33.38 276.17,33.17 277.27,32.96 278.37,32.75 279.46,32.54 280.56,32.33 281.66,32.13 282.76,31.93 283.85,31.73 284.95,31.53 286.05,31.34 287.15,31.15 288.25,30.96 289.34,30.77 290.44,30.58 291.54,30.39 292.64,30.21 293.73,30.03 294.83,29.85 295.93,29.67 297.03,29.50 298.13,29.32 299.22,29.15 300.32,28.98 301.42,28.81 302.52,28.64 303.62,28.47 304.71,28.31 305.81,28.15 306.91,27.99 308.01,27.83 309.10,27.67 310.20,27.51 311.30,27.36 312.40,27.20 313.50,27.05 314.59,26.90 315.69,26.75 316.79,26.61 317.89,26.46 318.98,26.31 320.08,26.17 321.18,26.03 322.28,25.89 323.38,25.75 324.47,25.61 325.57,25.47 326.67,25.34 327.77,25.20 328.87,25.07 329.96,24.94 331.06,24.81 332.16,24.68 333.26,24.55 334.35,24.42 335.45,24.30 336.55,24.17 337.65,24.05 338.75,23.93 339.84,23.81 340.94,23.69 342.04,23.57 343.14,23.45 344.23,23.33 345.33,23.22 346.43,23.10 347.53,22.99 348.63,22.87 349.72,22.76 350.82,22.65 351.92,22.54 353.02,22.43 354.12,22.32 355.21,22.22 356.31,22.11 357.41,22.01 358.51,21.90 359.60,21.80 360.70,21.70 361.80,21.59" fill="none" stroke="#000" stroke-width="1.5"/>
</g>
<rect x="33.55" y="4.7" width="328.25" height="236.20000000000002" fill="none" stroke="#444444" stroke-width="1.35"/>
<path d="M33.55,240.9v-4.0M33.55,4.7v4.0M46.68,240.9v-2.0M46.68,4.7v2.0M59.81,240.9v-2.0M59.81,4.7v2.0M72.94,240.9v-2.0M72.94,4.7v2.0M86.07,240.9v-2.0M86.07,4.7v2.0M99.20,240.9v-4.0M99.20,4.7v4.0M112.33,240.9v-2.0M112.33,4.7v2.0M125.46,240.9v-2.0M125.46,4.7v2.0M138.59,240.9v-2.0M138.59,4.7v2.0M151.72,240.9v-2.0M151.72,4.7v2.0M164.85,240.9v-4.0M164.85,4.7v4.0M177.98,240.9v-2.0M177.98,4.7v2.0M191.11,240.9v-2.0M191.11,4.7v2.0M204.24,240.9v-2.0M204.24,4.7v2.0M217.37,240.9v-2.0M217.37,4.7v2.0M230.50,240.9v-4.0M230.50,4.7v4.0M243.63,240.9v-2.0M243.63,4.7v2.0M256.76,240.9v-2.0M256.76,4.7v2.0M269.89,240.9v-2.0M269.89,4.7v2.0M283.02,240.9v-2.0M283.02,4.7v2.0M296.15,240.9v-4.0M296.15,4.7v4.0M309.28,240.9v-2.0M309.28,4.7v2.0M322.41,240.9v-2.0M322.41,4.7v2.0M335.54,240.9v-2.0M335.54,4.7v2.0M348.67,240.9v-2.0M348.67,4.7v2.0M361.80,240.9v-4.0M361.80,4.7v4.0M33.55,240.90h4.0M361.8,240.90h-4.0M33.55,236.18h2.0M361.8,236.18h-2.0M33.55,231.45h2.0M361.8,231.45h-2.0M33.55,226.73h2.0M361.8,226.73h-2.0M33.55,222.00h2.0M361.8,222.00h-2.0M33.55,217.28h4.0M361.8,217.28h-4.0M33.55,212.56h2.0M361.8,212.56h-2.0M33.55,207.83h2.0M361.8,207.83h-2.0M33.55,203.11h2.0M361.8,203.11h-2.0M33.55,198.38h2.0M361.8,198.38h-2.0M33.55,193.66h4.0M361.8,193.66h-4.0M33.55,188.94h2.0M361.8,188.94h-2.0M33.55,184.21h2.0M361.8,184.21h-2.0M33.55,179.49h2.0M361.8,179.49h-2.0M33.55,174.76h2.0M361.8,174.76h-2.0M33.55,170.04h4.0M361.8,170.04h-4.0M33.55,165.32h2.0M361.8,165.32h-2.0M33.55,160.59h2.0M361.8,160.59h-2.0M33.55,155.87h2.0M361.8,155.87h-2.0M33.55,151.14h2.0M361.8,151.14h-2.0M33.55,146.42h4.0M361.8,146.42h-4.0M33.55,141.70h2.0M361.8,141.70h-2.0M33.55,136.97h2.0M361.8,136.97h-2.0M33.55,132.25h2.0M361.8,132.25h-2.0M33.55,127.52h2.0M361.8,127.52h-2.0M33.55,122.80h4.0M361.8,122.80h-4.0M33.55,118.08h2.0M361.8,118.08h-2.0M33.55,113.35h2.0M361.8,113.35h-2.0M33.55,108.63h2.0M361.8,108.63h-2.0M33.55,103.90h2.0M361.8,103.90h-2.0M33.55,99.18h4.0M361.8,99.18h-4.0M33.55,94.46h2.0M361.8,94.46h-2.0M33.55,89.73h2.0M361.8,89.73h-2.0M33.55,85.01h2.0M361.8,85.01h-2.0M33.55,80.28h2.0M361.8,80.28h-2.0M33.55,75.56h4.0M361.8,75.56h-4.0M33.55,70.84h2.0M361.8,70.84h-2.0M33.55,66.11h2.0M361.8,66.11h-2.0M33.55,61.39h2.0M361.8,61.39h-2.0M33.55,56.66h2.0M361.8,56.66h-2.0M33.55,51.94h4.0M361.8,51.94h-4.0M33.55,47.22h2.0M361.8,47.22h-2.0M33.55,42.49h2.0M361.8,42.49h-2.0M33.55,37.77h2.0M361.8,37.77h-2.0M33.55,33.04h2.0M361.8,33.04h-2.0M33.55,28.32h4.0M361.8,28.32h-4.0M33.55,23.60h2.0M361.8,23.60h-2.0M33.55,18.87h2.0M361.8,18.87h-2.0M33.55,14.15h2.0M361.8,14.15h-2.0M33.55,9.42h2.0M361.8,9.42h-2.0M33.55,4.70h4.0M361.8,4.70h-4.0" stroke="#444444" stroke-width="1.0" fill="none"/>
<g font-family="Liberation Serif, serif" font-size="12.3" fill="#333333">
<text x="35.85" y="251.7" text-anchor="middle">0</text>
<text x="100.70" y="251.7" text-anchor="middle">0.05</text>
<text x="166.35" y="251.7" text-anchor="middle">0.1</text>
<text x="232.00" y="251.7" text-anchor="middle">0.15</text>
<text x="297.65" y="251.7" text-anchor="middle">0.2</text>
<text x="363.30" y="251.7" text-anchor="middle">0.25</text>
<text x="32.35" y="244.40" text-anchor="end">0</text>
<text x="32.35" y="220.78" text-anchor="end">0.1</text>
<text x="32.35" y="197.16" text-anchor="end">0.2</text>
<text x="32.35" y="173.54" text-anchor="end">0.3</text>
<text x="32.35" y="149.92" text-anchor="end">0.4</text>
<text x="32.35" y="126.30" text-anchor="end">0.5</text>
<text x="32.35" y="102.68" text-anchor="end">0.6</text>
<text x="32.35" y="79.06" text-anchor="end">0.7</text>
<text x="32.35" y="55.44" text-anchor="end">0.8</text>
<text x="32.35" y="31.82" text-anchor="end">0.9</text>
<text x="32.35" y="8.20" text-anchor="end">1</text>
</g>
<g font-family="Liberation Serif, serif" fill="#333333">
<text x="61.0" y="252.3" font-size="13" font-style="italic">J<tspan font-size="9" dy="2">c</tspan></text>
</g>
<g font-family="Liberation Serif, serif" fill="#333333"><path d="M79.70,21.70L76.50,27.70L79.70,33.70" fill="none" stroke="#333333" stroke-width="0.7"/><text x="80.10" y="32.30" font-size="12.5" font-style="italic">σ</text><text x="87.00" y="34.40" font-size="7.2">1</text><text x="87.40" y="26.10" font-size="7.4" font-style="italic">z</text><text x="93.10" y="32.30" font-size="12.5" font-style="italic">σ</text><text x="100.00" y="34.40" font-size="7.2">2</text><text x="100.40" y="26.10" font-size="7.4" font-style="italic">z</text><path d="M105.90,21.70L109.10,27.70L105.90,33.70" fill="none" stroke="#333333" stroke-width="0.7"/><text x="110.40" y="33.20" font-size="9.2" textLength="14.4" lengthAdjust="spacingAndGlyphs">MF</text></g>
<g font-family="Liberation Serif, serif" fill="#333333"><path d="M201.60,57.70L198.40,63.70L201.60,69.70" fill="none" stroke="#333333" stroke-width="0.7"/><text x="202.00" y="68.30" font-size="12.5" font-style="italic">σ</text><text x="208.90" y="70.40" font-size="7.2">1</text><text x="209.30" y="62.10" font-size="7.4" font-style="italic">z</text><text x="215.00" y="68.30" font-size="12.5" font-style="italic">σ</text><text x="221.90" y="70.40" font-size="7.2">2</text><text x="222.30" y="62.10" font-size="7.4" font-style="italic">z</text><path d="M227.80,57.70L231.00,63.70L227.80,69.70" fill="none" stroke="#333333" stroke-width="0.7"/><text x="232.30" y="69.20" font-size="9.2" textLength="19.2" lengthAdjust="spacingAndGlyphs">Ising</text></g>
<g transform="translate(11.0,138.0) rotate(-90) scale(0.955,1)">
<g font-family="Liberation Serif, serif" fill="#333333"><path d="M3.20,-10.60L0.00,-4.60L3.20,1.40" fill="none" stroke="#333333" stroke-width="0.7"/><text x="3.60" y="0.00" font-size="12.5" font-style="italic">σ</text><text x="10.50" y="2.10" font-size="7.2">1</text><text x="10.90" y="-6.20" font-size="7.4" font-style="italic">z</text><text x="16.60" y="0.00" font-size="12.5" font-style="italic">σ</text><text x="23.50" y="2.10" font-size="7.2">2</text><text x="23.90" y="-6.20" font-size="7.4" font-style="italic">z</text><path d="M29.40,-10.60L32.60,-4.60L29.40,1.40" fill="none" stroke="#333333" stroke-width="0.7"/></g>
</g>
<g font-family="Liberation Serif, serif" fill="#333333">
<text x="177.3" y="262.5" font-size="12.5" font-style="italic">J</text>
<path d="M188.7,258.3H197.7M188.7,260.8H197.7" stroke="#333333" stroke-width="0.6"/>
<text x="209.5" y="259.0" font-size="8.2" font-style="italic" text-anchor="middle">αω<tspan font-size="6" dy="1.2">c</tspan></text>
<path d="M201.1,260.9H217.9" stroke="#333333" stroke-width="0.6"/>
<text x="209.7" y="267.2" font-size="8.2" font-style="italic" text-anchor="middle">s</text>
</g>
<rect x="262.2" y="36.0" width="92.0" height="76.6" fill="#ffffff" stroke="#444444" stroke-width="1"/>
<g font-family="Liberation Serif, serif" fill="#333333" font-size="12.5">
<text x="266.3" y="45.60" font-style="italic">s</text>
<path d="M274.6,41.40H283.4M274.6,43.80H283.4" stroke="#333333" stroke-width="0.6" fill="none"/>
<text x="286.6" y="45.60">3</text>
<text x="266.3" y="56.47" font-style="italic">s</text>
<path d="M274.6,52.27H283.4M274.6,54.67H283.4" stroke="#333333" stroke-width="0.6" fill="none"/>
<text x="286.6" y="56.47">2</text>
<text x="266.3" y="67.34" font-style="italic">s</text>
<path d="M274.6,63.14H283.4M274.6,65.54H283.4" stroke="#333333" stroke-width="0.6" fill="none"/>
<text x="286.6" y="67.34">1</text>
<text x="266.3" y="78.21" font-style="italic">s</text>
<path d="M274.6,74.01H283.4M274.6,76.41H283.4" stroke="#333333" stroke-width="0.6" fill="none"/>
<text x="286.6" y="78.21">0.75</text>
<text x="266.3" y="89.08" font-style="italic">s</text>
<path d="M274.6,84.88H283.4M274.6,87.28H283.4" stroke="#333333" stroke-width="0.6" fill="none"/>
<text x="286.6" y="89.08">0.5</text>
<text x="266.3" y="99.95" font-style="italic">s</text>
<path d="M274.6,95.75H283.4M274.6,98.15H283.4" stroke="#333333" stroke-width="0.6" fill="none"/>
<text x="286.6" y="99.95">0.25</text>
<text x="266.3" y="110.82" font-style="italic">s</text>
<path d="M274.6,106.62H283.4M274.6,109.02H283.4" stroke="#333333" stroke-width="0.6" fill="none"/>
<text x="286.6" y="110.82">0.1</text>
</g>
<path d="M328.2,42.20H346.2" stroke="#555" stroke-width="0.6" stroke-dasharray="3.4,2.4" fill="none"/>
<circle cx="337.10" cy="42.20" r="2.25" fill="#000000"/>
<path d="M328.2,53.10H346.2" stroke="#ff4500" stroke-width="1.5" stroke-dasharray="3,1,1,1,1,1" fill="none"/>
<polygon points="337.10,50.16 334.00,54.90 340.20,54.90" fill="#ff4500"/>
<path d="M328.2,64.00H346.2" stroke="#00eaf2" stroke-width="1.8" stroke-dasharray="3.2,1.2,1.2,1.2" fill="none"/>
<polygon points="337.10,61.40 339.57,63.20 338.63,66.10 335.57,66.10 334.63,63.20" fill="#00eaf2"/>
<path d="M328.2,74.90H346.2" stroke="#ff0000" stroke-width="1.3" stroke-dasharray="1.4,0.9" fill="none"/>
<rect x="335.35" y="73.15" width="3.50" height="3.50" fill="#ff8a8a" stroke="#ff0000" stroke-width="1.3"/>
<path d="M328.2,85.80H346.2" stroke="#0000ff" stroke-width="1.6" stroke-dasharray="3.6,1.3,1.2,1.3" fill="none"/>
<rect x="335.15" y="83.85" width="3.90" height="3.90" rx="0.7" fill="#0000ff"/>
<path d="M328.2,96.70H346.2" stroke="#00ff00" stroke-width="1.9" fill="none"/>
<path d="M337.10,93.90V99.50M334.30,96.70H339.90" stroke="#00ff00" stroke-width="1.3" fill="none"/>
<path d="M328.2,107.60H346.2" stroke="#ff00ff" stroke-width="1.6" stroke-dasharray="2.4,0.9" fill="none"/>
<path d="M334.60,105.10L339.60,110.10M334.60,110.10L339.60,105.10" stroke="#ff00ff" stroke-width="1.45" fill="none"/>
<rect x="159.95" y="115.0" width="193.85000000000002" height="103.30000000000001" fill="#ffffff"/>
<g clip-path="url(#ci)">
<polyline points="159.95,218.30 162.39,217.90 168.14,216.96 174.05,215.99 180.10,214.99 186.30,213.97 192.65,212.93 199.00,211.88 205.64,210.79 213.17,209.29 220.56,195.28 227.79,176.17 235.76,158.25 244.03,141.78 252.59,124.70 261.60,108.54 271.05,91.02 281.24,71.43 292.60,54.75 304.12,37.09 316.08,19.92 328.63,2.22 342.21,-17.16 358.45,-41.62 374.99,-62.76 391.67,-86.48 409.83,-118.20 429.32,-151.70 450.58,-199.65 472.43,-243.35 495.75,-291.76 522.33,-335.85 549.79,-383.92 579.47,-434.83 610.91,-486.05 644.13,-533.26" fill="none" stroke="#ff00ff" stroke-width="1.6" stroke-dasharray="2.4,0.9"/>
</g>
<path d="M159.89,215.40L164.89,220.40M159.89,220.40L164.89,215.40" stroke="#ff00ff" stroke-width="1.45" fill="none"/>
<path d="M165.64,214.46L170.64,219.46M165.64,219.46L170.64,214.46" stroke="#ff00ff" stroke-width="1.45" fill="none"/>
<path d="M171.55,213.49L176.55,218.49M171.55,218.49L176.55,213.49" stroke="#ff00ff" stroke-width="1.45" fill="none"/>
<path d="M177.60,212.49L182.60,217.49M177.60,217.49L182.60,212.49" stroke="#ff00ff" stroke-width="1.45" fill="none"/>
<path d="M183.80,211.47L188.80,216.47M183.80,216.47L188.80,211.47" stroke="#ff00ff" stroke-width="1.45" fill="none"/>
<path d="M190.15,210.43L195.15,215.43M190.15,215.43L195.15,210.43" stroke="#ff00ff" stroke-width="1.45" fill="none"/>
<path d="M196.50,209.38L201.50,214.38M196.50,214.38L201.50,209.38" stroke="#ff00ff" stroke-width="1.45" fill="none"/>
<path d="M203.14,208.29L208.14,213.29M203.14,213.29L208.14,208.29" stroke="#ff00ff" stroke-width="1.45" fill="none"/>
<path d="M210.67,206.79L215.67,211.79M210.67,211.79L215.67,206.79" stroke="#ff00ff" stroke-width="1.45" fill="none"/>
<path d="M218.06,192.78L223.06,197.78M218.06,197.78L223.06,192.78" stroke="#ff00ff" stroke-width="1.45" fill="none"/>
<path d="M225.29,173.67L230.29,178.67M225.29,178.67L230.29,173.67" stroke="#ff00ff" stroke-width="1.45" fill="none"/>
<path d="M233.26,155.75L238.26,160.75M233.26,160.75L238.26,155.75" stroke="#ff00ff" stroke-width="1.45" fill="none"/>
<path d="M241.53,139.28L246.53,144.28M241.53,144.28L246.53,139.28" stroke="#ff00ff" stroke-width="1.45" fill="none"/>
<path d="M250.09,122.20L255.09,127.20M250.09,127.20L255.09,122.20" stroke="#ff00ff" stroke-width="1.45" fill="none"/>
<g clip-path="url(#ci)">
<polyline points="159.95,218.30 162.39,217.52 168.14,215.67 174.05,213.76 180.10,211.81 186.30,209.80 192.65,207.73 199.00,205.65 205.64,203.46 212.58,201.15 220.26,198.56 227.79,195.99 235.76,183.50 244.03,164.38 252.59,147.21 261.60,130.86 271.05,114.40 281.24,98.00 292.60,80.69 304.12,63.17 316.08,45.94 328.63,27.55 342.21,10.54 358.45,-17.16 374.99,-43.37 391.67,-63.83 409.83,-90.51 429.32,-119.94 450.58,-149.47 472.43,-179.02 495.75,-212.88 522.33,-247.61 549.79,-286.25 579.47,-328.87 610.91,-375.07 644.13,-423.64" fill="none" stroke="#00ff00" stroke-width="1.9"/>
</g>
<path d="M162.39,214.72V220.32M159.59,217.52H165.19" stroke="#00ff00" stroke-width="1.3" fill="none"/>
<path d="M168.14,212.87V218.47M165.34,215.67H170.94" stroke="#00ff00" stroke-width="1.3" fill="none"/>
<path d="M174.05,210.96V216.56M171.25,213.76H176.85" stroke="#00ff00" stroke-width="1.3" fill="none"/>
<path d="M180.10,209.01V214.61M177.30,211.81H182.90" stroke="#00ff00" stroke-width="1.3" fill="none"/>
<path d="M186.30,207.00V212.60M183.50,209.80H189.10" stroke="#00ff00" stroke-width="1.3" fill="none"/>
<path d="M192.65,204.93V210.53M189.85,207.73H195.45" stroke="#00ff00" stroke-width="1.3" fill="none"/>
<path d="M199.00,202.85V208.45M196.20,205.65H201.80" stroke="#00ff00" stroke-width="1.3" fill="none"/>
<path d="M205.64,200.66V206.26M202.84,203.46H208.44" stroke="#00ff00" stroke-width="1.3" fill="none"/>
<path d="M212.58,198.35V203.95M209.78,201.15H215.38" stroke="#00ff00" stroke-width="1.3" fill="none"/>
<path d="M220.26,195.76V201.36M217.46,198.56H223.06" stroke="#00ff00" stroke-width="1.3" fill="none"/>
<path d="M227.79,193.19V198.79M224.99,195.99H230.59" stroke="#00ff00" stroke-width="1.3" fill="none"/>
<path d="M235.76,180.70V186.30M232.96,183.50H238.56" stroke="#00ff00" stroke-width="1.3" fill="none"/>
<path d="M244.03,161.58V167.18M241.23,164.38H246.83" stroke="#00ff00" stroke-width="1.3" fill="none"/>
<path d="M252.59,144.41V150.01M249.79,147.21H255.39" stroke="#00ff00" stroke-width="1.3" fill="none"/>
<path d="M261.60,128.06V133.66M258.80,130.86H264.40" stroke="#00ff00" stroke-width="1.3" fill="none"/>
<g clip-path="url(#ci)">
<polyline points="159.95,218.30 162.39,217.27 168.14,214.85 174.05,212.35 180.10,209.78 186.30,207.14 192.65,204.40 199.00,201.64 205.64,198.71 212.58,195.13 220.26,190.99 227.79,186.80 235.76,182.24 244.03,177.30 252.59,171.52 261.60,165.40 271.05,153.51 281.24,134.45 292.60,116.67 304.12,97.52 316.08,77.59 328.63,57.54 342.21,36.93 358.45,16.29 374.99,-6.35 391.67,-30.76 409.83,-55.65 429.32,-80.05 450.58,-107.80 472.43,-151.70 495.75,-197.32 522.33,-239.21 549.79,-280.91 579.47,-328.87 610.91,-383.92 644.13,-434.83" fill="none" stroke="#0000ff" stroke-width="1.6" stroke-dasharray="3.6,1.3,1.2,1.3"/>
</g>
<rect x="160.44" y="215.32" width="3.90" height="3.90" rx="0.7" fill="#0000ff"/>
<rect x="166.19" y="212.90" width="3.90" height="3.90" rx="0.7" fill="#0000ff"/>
<rect x="172.10" y="210.40" width="3.90" height="3.90" rx="0.7" fill="#0000ff"/>
<rect x="178.15" y="207.83" width="3.90" height="3.90" rx="0.7" fill="#0000ff"/>
<rect x="184.35" y="205.19" width="3.90" height="3.90" rx="0.7" fill="#0000ff"/>
<rect x="190.70" y="202.45" width="3.90" height="3.90" rx="0.7" fill="#0000ff"/>
<rect x="197.05" y="199.69" width="3.90" height="3.90" rx="0.7" fill="#0000ff"/>
<rect x="203.69" y="196.76" width="3.90" height="3.90" rx="0.7" fill="#0000ff"/>
<rect x="210.63" y="193.18" width="3.90" height="3.90" rx="0.7" fill="#0000ff"/>
<rect x="218.31" y="189.04" width="3.90" height="3.90" rx="0.7" fill="#0000ff"/>
<rect x="225.84" y="184.85" width="3.90" height="3.90" rx="0.7" fill="#0000ff"/>
<rect x="233.81" y="180.29" width="3.90" height="3.90" rx="0.7" fill="#0000ff"/>
<rect x="242.08" y="175.35" width="3.90" height="3.90" rx="0.7" fill="#0000ff"/>
<rect x="250.64" y="169.57" width="3.90" height="3.90" rx="0.7" fill="#0000ff"/>
<rect x="259.65" y="163.45" width="3.90" height="3.90" rx="0.7" fill="#0000ff"/>
<rect x="269.10" y="151.56" width="3.90" height="3.90" rx="0.7" fill="#0000ff"/>
<rect x="279.29" y="132.50" width="3.90" height="3.90" rx="0.7" fill="#0000ff"/>
<rect x="290.65" y="114.72" width="3.90" height="3.90" rx="0.7" fill="#0000ff"/>
<g clip-path="url(#ci)">
<polyline points="159.95,218.30 162.39,217.10 168.14,214.25 174.05,211.34 180.10,208.23 186.30,204.93 192.65,201.56 199.00,198.19 205.64,194.66 212.58,190.98 220.26,186.91 227.79,182.93 235.76,178.71 244.03,174.28 252.59,169.07 261.60,163.50 271.05,156.37 281.24,148.38 292.60,138.61 304.12,128.56 316.08,117.57 328.63,102.14 342.21,82.64 358.45,55.33 374.99,28.75 391.67,2.23 409.83,-23.44 429.32,-51.65 450.58,-84.26 472.43,-118.20 495.75,-151.46 522.33,-197.25 549.79,-235.86 579.47,-266.82 610.91,-315.65 644.13,-366.58" fill="none" stroke="#ff0000" stroke-width="1.3" stroke-dasharray="1.4,0.9"/>
</g>
<rect x="160.64" y="215.35" width="3.50" height="3.50" fill="#ff8a8a" stroke="#ff0000" stroke-width="1.3"/>
<rect x="166.39" y="212.50" width="3.50" height="3.50" fill="#ff8a8a" stroke="#ff0000" stroke-width="1.3"/>
<rect x="172.30" y="209.59" width="3.50" height="3.50" fill="#ff8a8a" stroke="#ff0000" stroke-width="1.3"/>
<rect x="178.35" y="206.48" width="3.50" height="3.50" fill="#ff8a8a" stroke="#ff0000" stroke-width="1.3"/>
<rect x="184.55" y="203.18" width="3.50" height="3.50" fill="#ff8a8a" stroke="#ff0000" stroke-width="1.3"/>
<rect x="190.90" y="199.81" width="3.50" height="3.50" fill="#ff8a8a" stroke="#ff0000" stroke-width="1.3"/>
<rect x="197.25" y="196.44" width="3.50" height="3.50" fill="#ff8a8a" stroke="#ff0000" stroke-width="1.3"/>
<rect x="203.89" y="192.91" width="3.50" height="3.50" fill="#ff8a8a" stroke="#ff0000" stroke-width="1.3"/>
<rect x="210.83" y="189.23" width="3.50" height="3.50" fill="#ff8a8a" stroke="#ff0000" stroke-width="1.3"/>
<rect x="218.51" y="185.16" width="3.50" height="3.50" fill="#ff8a8a" stroke="#ff0000" stroke-width="1.3"/>
<rect x="226.04" y="181.18" width="3.50" height="3.50" fill="#ff8a8a" stroke="#ff0000" stroke-width="1.3"/>
<rect x="234.01" y="176.96" width="3.50" height="3.50" fill="#ff8a8a" stroke="#ff0000" stroke-width="1.3"/>
<rect x="242.28" y="172.53" width="3.50" height="3.50" fill="#ff8a8a" stroke="#ff0000" stroke-width="1.3"/>
<rect x="250.84" y="167.32" width="3.50" height="3.50" fill="#ff8a8a" stroke="#ff0000" stroke-width="1.3"/>
<rect x="259.85" y="161.75" width="3.50" height="3.50" fill="#ff8a8a" stroke="#ff0000" stroke-width="1.3"/>
<rect x="269.30" y="154.62" width="3.50" height="3.50" fill="#ff8a8a" stroke="#ff0000" stroke-width="1.3"/>
<rect x="279.49" y="146.63" width="3.50" height="3.50" fill="#ff8a8a" stroke="#ff0000" stroke-width="1.3"/>
<rect x="290.85" y="136.86" width="3.50" height="3.50" fill="#ff8a8a" stroke="#ff0000" stroke-width="1.3"/>
<rect x="302.37" y="126.81" width="3.50" height="3.50" fill="#ff8a8a" stroke="#ff0000" stroke-width="1.3"/>
<rect x="314.33" y="115.82" width="3.50" height="3.50" fill="#ff8a8a" stroke="#ff0000" stroke-width="1.3"/>
<g clip-path="url(#ci)">
<polyline points="159.95,218.30 162.39,217.05 168.14,214.10 174.05,211.08 180.10,207.92 186.30,204.62 192.65,201.24 199.00,197.86 205.64,194.33 212.58,190.64 220.26,186.56 227.79,182.56 235.76,177.95 244.03,173.09 252.59,168.01 261.60,162.54 271.05,156.37 281.24,149.39 292.60,141.54 304.12,131.84 316.08,122.18 328.63,112.50 342.21,101.55 358.45,87.43 374.99,73.07 391.67,55.89 409.83,36.42 429.32,16.29 450.58,-6.70 472.43,-36.54 495.75,-69.11 522.33,-122.60 549.79,-171.98 579.47,-217.61 610.91,-281.37 644.13,-342.13" fill="none" stroke="#00eaf2" stroke-width="1.8" stroke-dasharray="3.2,1.2,1.2,1.2"/>
</g>
<polygon points="162.39,214.45 164.86,216.25 163.91,219.16 160.86,219.16 159.91,216.25" fill="#00eaf2"/>
<polygon points="168.14,211.50 170.62,213.30 169.67,216.21 166.62,216.21 165.67,213.30" fill="#00eaf2"/>
<polygon points="174.05,208.48 176.52,210.28 175.58,213.18 172.52,213.18 171.58,210.28" fill="#00eaf2"/>
<polygon points="180.10,205.32 182.58,207.11 181.63,210.02 178.57,210.02 177.63,207.11" fill="#00eaf2"/>
<polygon points="186.30,202.02 188.78,203.81 187.83,206.72 184.78,206.72 183.83,203.81" fill="#00eaf2"/>
<polygon points="192.65,198.64 195.12,200.43 194.18,203.34 191.12,203.34 190.18,200.43" fill="#00eaf2"/>
<polygon points="199.00,195.26 201.47,197.06 200.53,199.96 197.47,199.96 196.53,197.06" fill="#00eaf2"/>
<polygon points="205.64,191.73 208.12,193.53 207.17,196.43 204.12,196.43 203.17,193.53" fill="#00eaf2"/>
<polygon points="212.58,188.04 215.06,189.84 214.11,192.74 211.06,192.74 210.11,189.84" fill="#00eaf2"/>
<polygon points="220.26,183.96 222.73,185.76 221.79,188.67 218.73,188.67 217.79,185.76" fill="#00eaf2"/>
<polygon points="227.79,179.96 230.26,181.76 229.32,184.67 226.26,184.67 225.32,181.76" fill="#00eaf2"/>
<polygon points="235.76,175.35 238.24,177.15 237.29,180.06 234.23,180.06 233.29,177.15" fill="#00eaf2"/>
<polygon points="244.03,170.49 246.50,172.29 245.56,175.20 242.50,175.20 241.56,172.29" fill="#00eaf2"/>
<polygon points="252.59,165.41 255.07,167.20 254.12,170.11 251.07,170.11 250.12,167.20" fill="#00eaf2"/>
<polygon points="261.60,159.94 264.07,161.74 263.13,164.65 260.07,164.65 259.13,161.74" fill="#00eaf2"/>
<polygon points="271.05,153.77 273.52,155.57 272.58,158.48 269.52,158.48 268.58,155.57" fill="#00eaf2"/>
<polygon points="281.24,146.79 283.71,148.58 282.76,151.49 279.71,151.49 278.76,148.58" fill="#00eaf2"/>
<polygon points="292.60,138.94 295.08,140.74 294.13,143.65 291.08,143.65 290.13,140.74" fill="#00eaf2"/>
<polygon points="304.12,129.24 306.59,131.04 305.65,133.94 302.59,133.94 301.65,131.04" fill="#00eaf2"/>
<polygon points="316.08,119.58 318.55,121.38 317.61,124.28 314.55,124.28 313.61,121.38" fill="#00eaf2"/>
<g clip-path="url(#ci)">
<polyline points="159.95,218.30 162.39,217.00 168.14,213.93 174.05,210.79 180.10,207.56 186.30,204.26 192.65,200.87 199.00,197.49 205.64,193.95 212.58,190.25 220.26,185.95 227.79,181.67 235.76,177.11 244.03,172.36 252.59,167.15 261.60,161.59 271.05,155.64 281.24,149.08 292.60,141.79 304.12,134.17 316.08,126.25 328.63,117.76 342.21,108.20 358.45,98.21 374.99,87.20 391.67,75.54 409.83,63.10 429.32,49.66 450.58,36.43 472.43,25.02 495.75,11.19 522.33,-7.23 549.79,-19.70 579.47,-33.94 610.91,-43.26 644.13,-50.68" fill="none" stroke="#ff4500" stroke-width="1.5" stroke-dasharray="3,1,1,1,1,1"/>
</g>
<polygon points="162.39,214.06 159.29,218.80 165.49,218.80" fill="#ff4500"/>
<polygon points="168.14,210.99 165.04,215.73 171.24,215.73" fill="#ff4500"/>
<polygon points="174.05,207.84 170.95,212.58 177.15,212.58" fill="#ff4500"/>
<polygon points="180.10,204.62 177.00,209.36 183.20,209.36" fill="#ff4500"/>
<polygon points="186.30,201.31 183.20,206.05 189.40,206.05" fill="#ff4500"/>
<polygon points="192.65,197.93 189.55,202.67 195.75,202.67" fill="#ff4500"/>
<polygon points="199.00,194.55 195.90,199.29 202.10,199.29" fill="#ff4500"/>
<polygon points="205.64,191.01 202.54,195.75 208.74,195.75" fill="#ff4500"/>
<polygon points="212.58,187.31 209.48,192.05 215.68,192.05" fill="#ff4500"/>
<polygon points="220.26,183.00 217.16,187.74 223.36,187.74" fill="#ff4500"/>
<polygon points="227.79,178.72 224.69,183.46 230.89,183.46" fill="#ff4500"/>
<polygon points="235.76,174.17 232.66,178.91 238.86,178.91" fill="#ff4500"/>
<polygon points="244.03,169.41 240.93,174.15 247.13,174.15" fill="#ff4500"/>
<polygon points="252.59,164.20 249.49,168.95 255.69,168.95" fill="#ff4500"/>
<polygon points="261.60,158.64 258.50,163.38 264.70,163.38" fill="#ff4500"/>
<polygon points="271.05,152.70 267.95,157.44 274.15,157.44" fill="#ff4500"/>
<polygon points="281.24,146.14 278.14,150.88 284.34,150.88" fill="#ff4500"/>
<polygon points="292.60,138.84 289.50,143.59 295.70,143.59" fill="#ff4500"/>
<polygon points="304.12,131.23 301.02,135.97 307.22,135.97" fill="#ff4500"/>
<polygon points="316.08,123.31 312.98,128.05 319.18,128.05" fill="#ff4500"/>
<polygon points="328.63,114.82 325.53,119.56 331.73,119.56" fill="#ff4500"/>
<g clip-path="url(#ci)">
<polyline points="159.95,218.30 162.39,217.00 168.14,213.93 174.05,210.79 180.10,207.56 186.30,204.26 192.65,200.87 199.00,197.49 205.64,193.95 212.58,190.25 220.26,185.98 227.79,181.74 235.76,177.23 244.03,172.53 252.59,167.56 261.60,162.04 271.05,156.04 281.24,149.92 292.60,143.45 304.12,135.66 316.08,128.51 328.63,120.70 342.21,112.02 358.45,102.27 374.99,91.68 391.67,80.59 409.83,69.50 429.32,57.53 450.58,43.69 472.43,31.83 495.75,17.82 522.33,1.44 549.79,-9.25 579.47,-23.37 610.91,-34.83 644.13,-44.21" fill="none" stroke="#555" stroke-width="0.6" stroke-dasharray="3.4,2.4"/>
</g>
<circle cx="162.39" cy="217.00" r="2.25" fill="#000000"/>
<circle cx="168.14" cy="213.93" r="2.25" fill="#000000"/>
<circle cx="174.05" cy="210.79" r="2.25" fill="#000000"/>
<circle cx="180.10" cy="207.56" r="2.25" fill="#000000"/>
<circle cx="186.30" cy="204.26" r="2.25" fill="#000000"/>
<circle cx="192.65" cy="200.87" r="2.25" fill="#000000"/>
<circle cx="199.00" cy="197.49" r="2.25" fill="#000000"/>
<circle cx="205.64" cy="193.95" r="2.25" fill="#000000"/>
<circle cx="212.58" cy="190.25" r="2.25" fill="#000000"/>
<circle cx="220.26" cy="185.98" r="2.25" fill="#000000"/>
<circle cx="227.79" cy="181.74" r="2.25" fill="#000000"/>
<circle cx="235.76" cy="177.23" r="2.25" fill="#000000"/>
<circle cx="244.03" cy="172.53" r="2.25" fill="#000000"/>
<circle cx="252.59" cy="167.56" r="2.25" fill="#000000"/>
<circle cx="261.60" cy="162.04" r="2.25" fill="#000000"/>
<circle cx="271.05" cy="156.04" r="2.25" fill="#000000"/>
<circle cx="281.24" cy="149.92" r="2.25" fill="#000000"/>
<circle cx="292.60" cy="143.45" r="2.25" fill="#000000"/>
<circle cx="304.12" cy="135.66" r="2.25" fill="#000000"/>
<circle cx="316.08" cy="128.51" r="2.25" fill="#000000"/>
<circle cx="328.63" cy="120.70" r="2.25" fill="#000000"/>
<g clip-path="url(#ci)">
<path d="M159.95,218.3L353.8,115.0" stroke="#000" stroke-width="1.6" fill="none"/>
</g>
<rect x="159.95" y="115.0" width="193.85000000000002" height="103.30000000000001" fill="none" stroke="#444444" stroke-width="1.35"/>
<path d="M159.95,218.3v-3.6M159.95,115.0v3.6M169.64,218.3v-1.8M169.64,115.0v1.8M179.33,218.3v-1.8M179.33,115.0v1.8M189.03,218.3v-1.8M189.03,115.0v1.8M198.72,218.3v-3.6M198.72,115.0v3.6M208.41,218.3v-1.8M208.41,115.0v1.8M218.10,218.3v-1.8M218.10,115.0v1.8M227.80,218.3v-1.8M227.80,115.0v1.8M237.49,218.3v-3.6M237.49,115.0v3.6M247.18,218.3v-1.8M247.18,115.0v1.8M256.88,218.3v-1.8M256.88,115.0v1.8M266.57,218.3v-1.8M266.57,115.0v1.8M276.26,218.3v-3.6M276.26,115.0v3.6M285.95,218.3v-1.8M285.95,115.0v1.8M295.64,218.3v-1.8M295.64,115.0v1.8M305.34,218.3v-1.8M305.34,115.0v1.8M315.03,218.3v-3.6M315.03,115.0v3.6M324.72,218.3v-1.8M324.72,115.0v1.8M334.41,218.3v-1.8M334.41,115.0v1.8M344.11,218.3v-1.8M344.11,115.0v1.8M353.80,218.3v-3.6M353.80,115.0v3.6M159.95,218.30h3.6M353.8,218.30h-3.6M159.95,213.14h1.8M353.8,213.14h-1.8M159.95,207.97h1.8M353.8,207.97h-1.8M159.95,202.81h1.8M353.8,202.81h-1.8M159.95,197.64h3.6M353.8,197.64h-3.6M159.95,192.48h1.8M353.8,192.48h-1.8M159.95,187.31h1.8M353.8,187.31h-1.8M159.95,182.15h1.8M353.8,182.15h-1.8M159.95,176.98h3.6M353.8,176.98h-3.6M159.95,171.81h1.8M353.8,171.81h-1.8M159.95,166.65h1.8M353.8,166.65h-1.8M159.95,161.49h1.8M353.8,161.49h-1.8M159.95,156.32h3.6M353.8,156.32h-3.6M159.95,151.16h1.8M353.8,151.16h-1.8M159.95,145.99h1.8M353.8,145.99h-1.8M159.95,140.83h1.8M353.8,140.83h-1.8M159.95,135.66h3.6M353.8,135.66h-3.6M159.95,130.50h1.8M353.8,130.50h-1.8M159.95,125.33h1.8M353.8,125.33h-1.8M159.95,120.17h1.8M353.8,120.17h-1.8M159.95,115.00h3.6M353.8,115.00h-3.6" stroke="#444444" stroke-width="1.0" fill="none"/>
<g font-family="Liberation Serif, serif" font-size="12.3" fill="#333333">
<text x="159.95" y="228.5" text-anchor="middle">0</text>
<text x="198.72" y="228.5" text-anchor="middle">0.02</text>
<text x="237.49" y="228.5" text-anchor="middle">0.04</text>
<text x="276.26" y="228.5" text-anchor="middle">0.06</text>
<text x="315.03" y="228.5" text-anchor="middle">0.08</text>
<text x="353.80" y="228.5" text-anchor="middle">0.1</text>
<text x="158.75" y="221.70" text-anchor="end">0</text>
<text x="158.75" y="201.04" text-anchor="end">0.02</text>
<text x="158.75" y="180.38" text-anchor="end">0.04</text>
<text x="158.75" y="159.72" text-anchor="end">0.06</text>
<text x="158.75" y="139.06" text-anchor="end">0.08</text>
<text x="158.75" y="118.40" text-anchor="end">0.1</text>
</g>
<g font-family="Liberation Serif, serif" fill="#333333">
<text x="253.6" y="235.6" font-size="12.5" font-style="italic">J</text>
<g transform="translate(133.2,175.6) rotate(-90)"><text x="0" y="0" font-size="12.5" font-style="italic">J<tspan font-size="7.5" font-style="normal" dy="2">eff</tspan></text></g>
</g>
</svg>
</body></html>
